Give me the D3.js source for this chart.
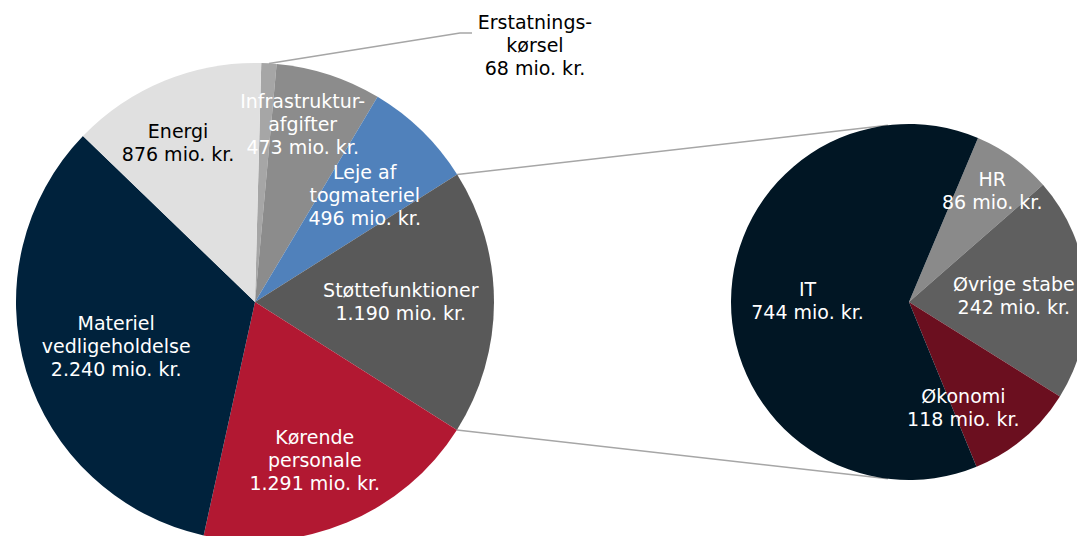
<!DOCTYPE html>
<html>
<head>
<meta charset="utf-8">
<script src="https://cdn.jsdelivr.net/npm/d3@7"></script>
<style>
  body { margin: 0; background: #fff; }
  svg { display: block; }
  text { font-family: "DejaVu Sans", Verdana, sans-serif; font-size: 19px; }
</style>
</head>
<body>
<script>
// main pie: total costs split into categories (mio. kr.)
var mainCategories = ["Erstatningskørsel", "Infrastrukturafgifter", "Leje af togmateriel", "Støttefunktioner", "Kørende personale", "Materiel vedligeholdelse", "Energi"];
var mainValues = [68, 473, 496, 1190, 1291, 2240, 876];
var mainLabelLines = [
    ["Erstatnings-", "kørsel"],
    ["Infrastruktur-", "afgifter"],
    ["Leje af", "togmateriel"],
    ["Støttefunktioner"],
    ["Kørende", "personale"],
    ["Materiel", "vedligeholdelse"],
    ["Energi"]
];

// second pie: Støttefunktioner split further
var subCategories = ["HR", "Øvrige stabe", "Økonomi", "IT"];
var subValues = [86, 242, 118, 744];
var subLabelLines = [["HR"], ["Øvrige stabe"], ["Økonomi"], ["IT"]];

var w = 1077, h = 536;
var deg = Math.PI / 180;
var format = function(v){ return d3.format(",")(v).replace(/,/g, ".") + " mio. kr."; };

var svg = d3.select("body").append("svg")
    .attr("width", w)
    .attr("height", h);

//layout of the two pies
var main = {cx: 255, cy: 302, r: 239, start: 1.5 * deg};
var sub = {cx: 909, cy: 302, r: 178, start: 22.8 * deg};

var mainColors = ["#a6a6a6", "#8c8c8c", "#5081bb", "#595959", "#b21832", "#00223c", "#e0e0e0"];
var mainText = ["#000", "#fff", "#fff", "#fff", "#fff", "#fff", "#000"];
var mainLabelFrac = [0, 0.77, 0.64, 0.61, 0.71, 0.61, 0.74];
var mainLabelShift = [0, -3, 1.5, 0, 2, -1, -3.5];

var subColors = ["#8a8a8a", "#5f5f5f", "#6b0f1f", "#011624"];
var subLabelFrac = [0.78, 0.59, 0.67, 0.57];
var subLabelShift = [1, 1.3, 13, 0.4];

function polar(c, angle, radius){
    return [c.cx + radius * Math.sin(angle), c.cy - radius * Math.cos(angle)];
}

var mainArcs = d3.pie().sort(null)
    .startAngle(main.start).endAngle(main.start + 2 * Math.PI)(mainValues);
var subArcs = d3.pie().sort(null)
    .startAngle(sub.start).endAngle(sub.start + 2 * Math.PI)(subValues);

var mainArc = d3.arc().innerRadius(0).outerRadius(main.r);
var subArc = d3.arc().innerRadius(0).outerRadius(sub.r);

//connector lines between the Støttefunktioner slice and the second pie
var stotte = mainArcs[3];
var p1 = polar(main, stotte.startAngle, main.r);
var p2 = polar(main, stotte.endAngle, main.r);
var q1 = polar(sub, -6.8 * deg, sub.r);
var q2 = polar(sub, 186.8 * deg, sub.r);
svg.append("g").attr("class", "connectors")
    .selectAll("line")
    .data([[p1, q1], [p2, q2]])
    .enter().append("line")
    .attr("x1", function(d){ return d[0][0]; })
    .attr("y1", function(d){ return d[0][1]; })
    .attr("x2", function(d){ return d[1][0]; })
    .attr("y2", function(d){ return d[1][1]; })
    .style("stroke", "#a6a6a6")
    .style("stroke-width", 1.5);

//main pie slices
svg.append("g")
    .attr("transform", "translate(" + main.cx + "," + main.cy + ")")
    .selectAll("path")
    .data(mainArcs)
    .enter().append("path")
    .attr("class", "slice")
    .attr("d", mainArc)
    .style("fill", function(d, i){ return mainColors[i]; });

//second pie slices
svg.append("g")
    .attr("transform", "translate(" + sub.cx + "," + sub.cy + ")")
    .selectAll("path")
    .data(subArcs)
    .enter().append("path")
    .attr("class", "slice")
    .attr("d", subArc)
    .style("fill", function(d, i){ return subColors[i]; });

function addLabel(x, y, lines, fill){
    var t = svg.append("text")
        .attr("text-anchor", "middle")
        .style("fill", fill);
    var n = lines.length;
    lines.forEach(function(line, k){
        t.append("tspan")
            .attr("x", x)
            .attr("y", y + (k - (n - 1) / 2) * 23)
            .attr("dy", "0.35em")
            .text(line);
    });
}

//main pie labels
mainArcs.forEach(function(d, i){
    var lines = mainLabelLines[i].concat([format(mainValues[i])]);
    if (i === 0){
        //small slice: label outside with a leader line
        var s = polar(main, (d.startAngle + d.endAngle) / 2, main.r);
        var lx = 535, ly = 45;
        svg.append("polyline")
            .attr("points", [s, [lx - 75, ly - 12], [lx - 63, ly - 12]].map(function(p){ return p.join(","); }).join(" "))
            .style("fill", "none")
            .style("stroke", "#a6a6a6")
            .style("stroke-width", 1.5);
        addLabel(lx, ly, lines, mainText[i]);
        return;
    }
    var p = polar(main, (d.startAngle + d.endAngle) / 2 + mainLabelShift[i] * deg, main.r * mainLabelFrac[i]);
    addLabel(p[0], p[1], lines, mainText[i]);
});

//second pie labels
subArcs.forEach(function(d, i){
    var lines = subLabelLines[i].concat([format(subValues[i])]);
    var p = polar(sub, (d.startAngle + d.endAngle) / 2 + subLabelShift[i] * deg, sub.r * subLabelFrac[i]);
    addLabel(p[0], p[1], lines, "#fff");
});
</script>
</body>
</html>
